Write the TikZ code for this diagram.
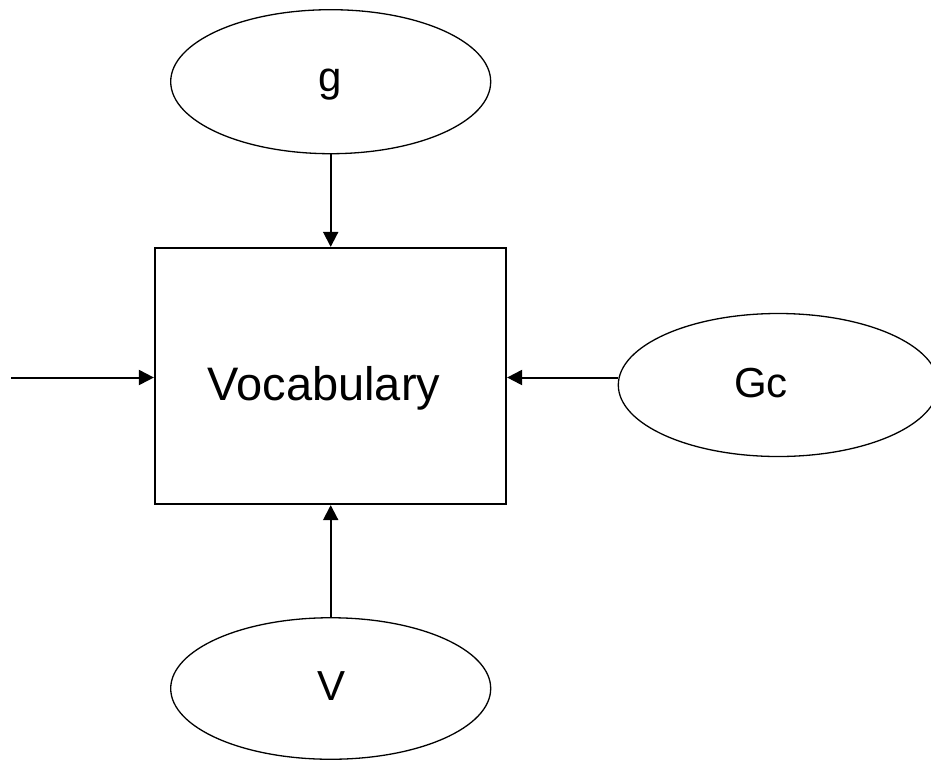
\documentclass[tikz,border=0pt]{standalone}
\usepackage{fontspec}
\setmainfont{Liberation Sans}
\usetikzlibrary{shapes.geometric,arrows.meta}
\tikzset{
  oval/.style={draw, ellipse, line width=1.3pt, minimum width=320pt, inner sep=0pt},
  box/.style={draw, rectangle, line width=2.2pt, minimum width=351pt, minimum height=256pt, inner sep=0pt},
  arr/.style={line width=2pt, -{Triangle[length=15pt,width=15pt]}},
  lbl/.style={anchor=base, inner sep=0pt, font=\fontsize{42}{48}\selectfont},
  biglbl/.style={anchor=base, inner sep=0pt, font=\fontsize{47}{54}\selectfont}
}
\begin{document}
\begin{tikzpicture}[x=1pt,y=-1pt]
\useasboundingbox (0,0) rectangle (931,761);
\clip (0,0) rectangle (931,761);
\fill[white] (0,0) rectangle (931,761);
\node[box] (voc) at (330.5,376) {};
\node[oval, minimum height=144pt] (g) at (330.7,81.7) {};
\node[oval, minimum height=143pt] (gc) at (778.3,385) {};
\node[oval, minimum height=141.5pt] (v) at (330.7,688.5) {};
\node[biglbl] (voctext) at (324,400) {Vocabulary};
\node[lbl] (gtext) at (330.5,91.5) {g};
\node[lbl] (gctext) at (761,397.5) {Gc};
\node[lbl] (vtext) at (332,700.5) {V};
\coordinate (src) at (11,377.5);
\draw[arr] (g.south) -- (g.south |- voc.north);
\draw[arr] (v.north) -- (v.north |- voc.south);
\draw[arr] (src) -- (src -| voc.west);
\draw[arr] (src -| gc.west) -- (src -| voc.east);
\end{tikzpicture}
\end{document}
